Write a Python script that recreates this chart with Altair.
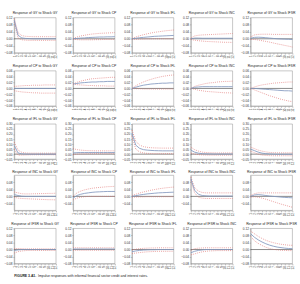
import altair as alt
import pandas as pd

periods = list(range(1, 13))
variables = ["GY", "CP", "IFL", "INC", "IFSR"]

# ---- Response of GY ----
GY_GY_irf = [0.105, 0.020, 0.005, 0.002, 0.001, 0, 0, 0, 0, 0, 0, 0]
GY_GY_hi = [0.115, 0.035, 0.018, 0.014, 0.013, 0.012, 0.012, 0.012, 0.012, 0.012, 0.012, 0.012]
GY_GY_lo = [0.095, 0.005, -0.006, -0.008, -0.009, -0.009, -0.009, -0.009, -0.009, -0.009, -0.009, -0.009]
GY_CP_irf = [0, 0.002, 0.004, 0.005, 0.007, 0.008, 0.009, 0.010, 0.010, 0.011, 0.011, 0.012]
GY_CP_hi = [0.002, 0.010, 0.016, 0.020, 0.024, 0.027, 0.029, 0.031, 0.032, 0.033, 0.034, 0.035]
GY_CP_lo = [-0.002, -0.005, -0.006, -0.006, -0.006, -0.006, -0.005, -0.005, -0.004, -0.004, -0.004, -0.004]
GY_IFL_irf = [0, 0.003, 0.006, 0.008, 0.010, 0.012, 0.014, 0.015, 0.016, 0.017, 0.018, 0.019]
GY_IFL_hi = [0.002, 0.010, 0.017, 0.023, 0.028, 0.033, 0.037, 0.040, 0.043, 0.046, 0.048, 0.050]
GY_IFL_lo = [-0.002, -0.003, -0.002, -0.002, -0.001, -0.001, 0, 0, 0, 0, 0, 0]
GY_INC_irf = [0, 0.004, 0.004, 0.003, 0.003, 0.003, 0.003, 0.003, 0.003, 0.003, 0.003, 0.003]
GY_INC_hi = [0.004, 0.016, 0.020, 0.022, 0.023, 0.024, 0.025, 0.026, 0.027, 0.028, 0.029, 0.030]
GY_INC_lo = [-0.004, -0.008, -0.011, -0.013, -0.015, -0.016, -0.017, -0.018, -0.019, -0.020, -0.020, -0.021]
GY_IFSR_irf = [0.003, 0.008, 0.009, 0.008, 0.006, 0.004, 0.002, 0.000, -0.001, -0.002, -0.003, -0.004]
GY_IFSR_hi = [0.010, 0.022, 0.025, 0.026, 0.026, 0.026, 0.025, 0.025, 0.025, 0.025, 0.025, 0.025]
GY_IFSR_lo = [-0.004, -0.004, -0.007, -0.011, -0.015, -0.019, -0.024, -0.029, -0.033, -0.038, -0.042, -0.047]

# ---- Response of CP ----
CP_GY_irf = [0, 0, 0, 0, 0, 0, 0, 0, 0, 0, 0, 0]
CP_GY_hi = [0.007, 0.008, 0.009, 0.010, 0.010, 0.011, 0.011, 0.011, 0.012, 0.012, 0.012, 0.012]
CP_GY_lo = [-0.008, -0.010, -0.012, -0.013, -0.014, -0.015, -0.015, -0.016, -0.016, -0.016, -0.016, -0.016]
CP_CP_irf = [0.015, 0.017, 0.019, 0.020, 0.021, 0.022, 0.022, 0.023, 0.023, 0.024, 0.024, 0.024]
CP_CP_hi = [0.015, 0.021, 0.025, 0.028, 0.031, 0.033, 0.034, 0.035, 0.036, 0.037, 0.038, 0.038]
CP_CP_lo = [0.015, 0.013, 0.012, 0.011, 0.010, 0.010, 0.009, 0.009, 0.009, 0.008, 0.008, 0.008]
CP_IFL_irf = [0, 0.004, 0.008, 0.011, 0.013, 0.015, 0.016, 0.017, 0.018, 0.018, 0.019, 0.019]
CP_IFL_hi = [0, 0.009, 0.016, 0.022, 0.027, 0.031, 0.035, 0.038, 0.041, 0.043, 0.045, 0.046]
CP_IFL_lo = [0, -0.001, -0.001, -0.002, -0.002, -0.002, -0.002, -0.002, -0.002, -0.002, -0.002, -0.002]
CP_INC_irf = [0, 0.004, 0.005, 0.006, 0.006, 0.006, 0.006, 0.006, 0.006, 0.006, 0.006, 0.006]
CP_INC_hi = [0, 0.007, 0.011, 0.014, 0.017, 0.019, 0.020, 0.022, 0.023, 0.024, 0.024, 0.025]
CP_INC_lo = [0, -0.003, -0.006, -0.008, -0.010, -0.011, -0.012, -0.013, -0.014, -0.015, -0.015, -0.016]
CP_IFSR_irf = [0, 0, -0.001, -0.002, -0.003, -0.004, -0.005, -0.006, -0.007, -0.008, -0.008, -0.009]
CP_IFSR_hi = [0, 0.005, 0.009, 0.012, 0.014, 0.016, 0.018, 0.019, 0.020, 0.021, 0.022, 0.022]
CP_IFSR_lo = [0, -0.005, -0.010, -0.015, -0.020, -0.025, -0.029, -0.033, -0.037, -0.040, -0.043, -0.045]

# ---- Response of IFL ----
IFL_GY_irf = [0.085, 0.012, 0.003, 0.001, 0, 0, 0, 0, 0, 0, 0, 0]
IFL_GY_hi = [0.120, 0.040, 0.018, 0.012, 0.010, 0.010, 0.010, 0.010, 0.010, 0.010, 0.010, 0.010]
IFL_GY_lo = [0.050, -0.010, -0.010, -0.008, -0.007, -0.006, -0.006, -0.006, -0.006, -0.006, -0.006, -0.006]
IFL_CP_irf = [0.012, 0.015, 0.016, 0.016, 0.016, 0.016, 0.016, 0.016, 0.016, 0.016, 0.016, 0.016]
IFL_CP_hi = [0.055, 0.045, 0.040, 0.037, 0.035, 0.034, 0.033, 0.033, 0.033, 0.033, 0.033, 0.033]
IFL_CP_lo = [-0.002, 0.000, 0.002, 0.003, 0.004, 0.004, 0.005, 0.005, 0.005, 0.005, 0.005, 0.005]
IFL_IFL_irf = [0.210, 0.090, 0.058, 0.045, 0.040, 0.037, 0.035, 0.034, 0.033, 0.033, 0.033, 0.033]
IFL_IFL_hi = [0.240, 0.130, 0.090, 0.075, 0.068, 0.064, 0.062, 0.061, 0.060, 0.060, 0.060, 0.060]
IFL_IFL_lo = [0.180, 0.050, 0.022, 0.012, 0.008, 0.006, 0.005, 0.005, 0.005, 0.005, 0.005, 0.005]
IFL_INC_irf = [0.040, 0.020, 0.010, 0.005, 0.003, 0.002, 0.001, 0.001, 0.001, 0.001, 0.001, 0.001]
IFL_INC_hi = [0.070, 0.045, 0.030, 0.020, 0.016, 0.014, 0.013, 0.012, 0.012, 0.012, 0.012, 0.012]
IFL_INC_lo = [0.010, 0.000, -0.005, -0.008, -0.009, -0.010, -0.010, -0.010, -0.010, -0.010, -0.010, -0.010]
IFL_IFSR_irf = [0.050, 0.035, 0.020, 0.010, 0.005, 0.002, 0.000, -0.001, -0.001, -0.001, -0.001, -0.001]
IFL_IFSR_hi = [0.070, 0.055, 0.040, 0.030, 0.022, 0.017, 0.015, 0.014, 0.013, 0.013, 0.013, 0.013]
IFL_IFSR_lo = [0.030, 0.015, 0.000, -0.010, -0.013, -0.015, -0.016, -0.016, -0.016, -0.016, -0.016, -0.016]

# ---- Response of INC ----
INC_GY_irf = [0.010, 0.005, 0.001, 0, 0, 0, 0, 0, 0, 0, 0, 0]
INC_GY_hi = [0.025, 0.020, 0.015, 0.014, 0.014, 0.015, 0.015, 0.016, 0.016, 0.017, 0.017, 0.018]
INC_GY_lo = [-0.005, -0.010, -0.012, -0.013, -0.014, -0.015, -0.016, -0.017, -0.018, -0.019, -0.019, -0.020]
INC_CP_irf = [-0.010, 0.005, 0.012, 0.017, 0.020, 0.023, 0.025, 0.026, 0.027, 0.028, 0.028, 0.028]
INC_CP_hi = [0.000, 0.020, 0.030, 0.037, 0.042, 0.046, 0.049, 0.051, 0.053, 0.055, 0.056, 0.057]
INC_CP_lo = [-0.020, -0.010, -0.005, -0.002, 0, 0, 0, 0, 0, 0, 0, 0]
INC_IFL_irf = [0, 0.004, 0.008, 0.011, 0.014, 0.016, 0.018, 0.020, 0.021, 0.022, 0.023, 0.024]
INC_IFL_hi = [0.005, 0.012, 0.019, 0.025, 0.030, 0.035, 0.039, 0.043, 0.046, 0.049, 0.051, 0.053]
INC_IFL_lo = [-0.005, -0.004, -0.003, -0.003, -0.002, -0.002, -0.002, -0.002, -0.002, -0.002, -0.002, -0.002]
INC_INC_irf = [0.100, 0.035, 0.012, 0.005, 0.003, 0.002, 0.002, 0.002, 0.002, 0.002, 0.002, 0.002]
INC_INC_hi = [0.110, 0.050, 0.030, 0.022, 0.020, 0.020, 0.020, 0.020, 0.020, 0.020, 0.020, 0.020]
INC_INC_lo = [0.090, 0.020, -0.005, -0.010, -0.012, -0.012, -0.012, -0.012, -0.012, -0.012, -0.012, -0.012]
INC_IFSR_irf = [0, 0.008, 0.010, 0.008, 0.005, 0.002, 0, -0.002, -0.004, -0.006, -0.007, -0.008]
INC_IFSR_hi = [0.005, 0.015, 0.020, 0.020, 0.020, 0.020, 0.020, 0.020, 0.020, 0.020, 0.020, 0.020]
INC_IFSR_lo = [-0.005, -0.002, -0.005, -0.010, -0.016, -0.023, -0.030, -0.037, -0.044, -0.050, -0.056, -0.062]

# ---- Response of IFSR ----
IFSR_GY_irf = [-0.005, -0.002, 0, 0, 0, 0, 0, 0, 0, 0, 0, 0]
IFSR_GY_hi = [0.005, 0.006, 0.005, 0.004, 0.004, 0.004, 0.004, 0.004, 0.004, 0.004, 0.004, 0.004]
IFSR_GY_lo = [-0.020, -0.012, -0.008, -0.006, -0.005, -0.005, -0.005, -0.005, -0.005, -0.005, -0.005, -0.005]
IFSR_CP_irf = [0.003, 0.003, 0.003, 0.003, 0.003, 0.003, 0.003, 0.003, 0.003, 0.003, 0.003, 0.003]
IFSR_CP_hi = [0.010, 0.010, 0.010, 0.010, 0.010, 0.010, 0.010, 0.010, 0.010, 0.010, 0.010, 0.010]
IFSR_CP_lo = [-0.004, -0.004, -0.004, -0.004, -0.004, -0.004, -0.004, -0.004, -0.004, -0.004, -0.004, -0.004]
IFSR_IFL_irf = [-0.012, -0.008, -0.005, -0.003, -0.002, -0.001, -0.001, 0, 0, 0, 0, 0]
IFSR_IFL_hi = [-0.002, 0.002, 0.005, 0.007, 0.008, 0.009, 0.009, 0.010, 0.010, 0.010, 0.010, 0.010]
IFSR_IFL_lo = [-0.022, -0.020, -0.017, -0.015, -0.013, -0.012, -0.011, -0.010, -0.010, -0.010, -0.010, -0.010]
IFSR_INC_irf = [-0.018, -0.010, -0.005, -0.002, 0, 0, 0, 0, 0, 0, 0, 0]
IFSR_INC_hi = [-0.005, 0.005, 0.008, 0.009, 0.010, 0.010, 0.010, 0.010, 0.010, 0.010, 0.010, 0.010]
IFSR_INC_lo = [-0.030, -0.025, -0.018, -0.013, -0.010, -0.008, -0.007, -0.006, -0.006, -0.006, -0.006, -0.006]
IFSR_IFSR_irf = [0.090, 0.070, 0.055, 0.043, 0.033, 0.025, 0.019, 0.014, 0.011, 0.008, 0.006, 0.005]
IFSR_IFSR_hi = [0.105, 0.090, 0.075, 0.063, 0.053, 0.045, 0.039, 0.034, 0.030, 0.027, 0.025, 0.024]
IFSR_IFSR_lo = [0.075, 0.050, 0.035, 0.023, 0.013, 0.006, 0.001, -0.002, -0.004, -0.005, -0.006, -0.006]

# y axis per response variable: domain and tick labels
row_domains = {
    "GY": [-0.08, 0.12], "CP": [-0.06, 0.06], "IFL": [-0.05, 0.30],
    "INC": [-0.08, 0.12], "IFSR": [-0.08, 0.12],
}
row_ticks = {
    "GY": [-0.08, -0.04, 0.0, 0.04, 0.08, 0.12],
    "CP": [-0.06, -0.04, -0.02, 0.0, 0.02, 0.04, 0.06],
    "IFL": [-0.05, 0.0, 0.05, 0.10, 0.15, 0.20, 0.25, 0.30],
    "INC": [-0.04, 0.0, 0.04, 0.08],
    "IFSR": [-0.08, -0.04, 0.0, 0.04, 0.08, 0.12],
}
zero_line = [0.0]

series = globals()
PW, PH = 44, 37
BLUE = "#8499bf"
RED = "#e0706e"


def panel(resp, shock):
    df = pd.DataFrame({
        "t": periods,
        "irf": series[f"{resp}_{shock}_irf"],
        "lo": series[f"{resp}_{shock}_lo"],
        "hi": series[f"{resp}_{shock}_hi"],
    })
    xenc = alt.X("t:Q", scale=alt.Scale(domain=[1, 12], nice=False),
                 axis=alt.Axis(values=periods, labelAngle=270, title=None,
                               labelAlign="right", labelBaseline="middle",
                               labelOverlap=False, labelFontSize=3.0))
    yscale = alt.Scale(domain=row_domains[resp], nice=False, zero=False)
    yaxis = alt.Axis(values=row_ticks[resp], format=".2f", title=None,
                     labelOverlap=False)
    base = alt.Chart(df)
    zero = alt.Chart(pd.DataFrame({"z": zero_line})).mark_rule(
        color="#333", strokeWidth=0.6).encode(y=alt.Y("z:Q", scale=yscale, axis=yaxis))
    hi = base.mark_line(color=RED, strokeWidth=0.7, strokeDash=[1, 1.2]).encode(
        x=xenc, y=alt.Y("hi:Q", scale=yscale, axis=yaxis))
    lo = base.mark_line(color=RED, strokeWidth=0.7, strokeDash=[1, 1.2]).encode(
        x=xenc, y=alt.Y("lo:Q", scale=yscale, axis=yaxis))
    irf = base.mark_line(color=BLUE, strokeWidth=0.9).encode(
        x=xenc, y=alt.Y("irf:Q", scale=yscale, axis=yaxis))
    return alt.layer(zero, hi, lo, irf).properties(
        width=PW, height=PH,
        title=alt.TitleParams(f"Response of {resp} to Shock {shock}"),
    )


panels = [panel(r, s) for r in variables for s in variables]
grid = alt.concat(*panels, columns=5, spacing={"row": 5, "column": 3})

cap_df = pd.DataFrame({"a": [0]})
cap_bold = alt.Chart(cap_df).mark_text(
    text="FIGURE 3.A1.", fontWeight="bold", fontSize=3.6, align="left",
    baseline="middle", color="#222", font="Liberation Sans").encode(
    x=alt.value(0), y=alt.value(3))
cap_text = alt.Chart(cap_df).mark_text(
    text="Impulse responses with informal financial sector credit and interest rates.",
    fontSize=3.6, align="left", baseline="middle", color="#222",
    font="Liberation Sans").encode(x=alt.value(25), y=alt.value(3))
caption = alt.layer(cap_bold, cap_text).properties(
    width=290, height=6, view=alt.ViewBackground(strokeOpacity=0))

chart = alt.vconcat(grid, caption, spacing=4).properties(
    padding={"left": 4, "top": 3, "right": 2, "bottom": 1},
    background="white",
).configure_axis(
    labelFontSize=3.3, labelFont="Liberation Sans", labelColor="#333",
    tickSize=1.5, tickColor="#888", tickWidth=0.5, labelPadding=0.8,
    domainColor="#888", domainWidth=0.5, grid=False,
).configure_title(
    fontSize=3.6, fontWeight="normal", font="Liberation Sans", color="#222",
    offset=1.5,
).configure_view(stroke="#888", strokeWidth=0.5)

chart.save("out.html", embed_options={"renderer": "svg", "actions": False})
